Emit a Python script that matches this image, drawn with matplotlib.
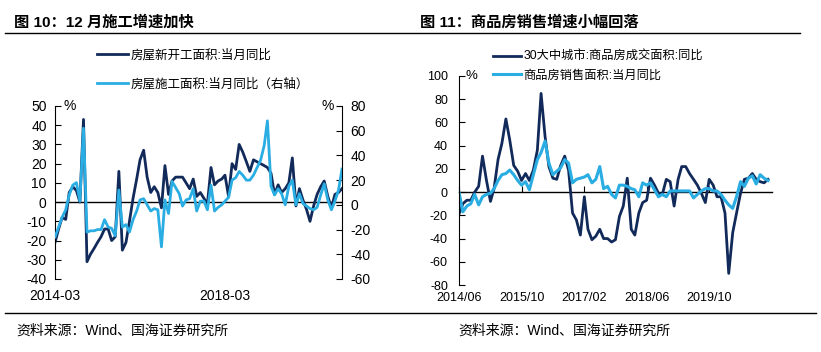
import matplotlib.pyplot as plt
import matplotlib.dates as mdates
import pandas as pd

plt.rcParams['font.family'] = ['Liberation Sans', 'Noto Sans CJK SC']
plt.rcParams['axes.unicode_minus'] = False

# 图10 数据：房屋新开工面积 / 房屋施工面积 当月同比 (%)
months_10 = pd.date_range('2014-03-01', periods=82, freq='MS')
new_start = [-21, -14, -8, -9, 5, 8, 6, 0, 43, -31,
             -27, -24, -21, -18, -14, -14, -20, -18, 16, -25,
             -21, -10, 2, 12, 22, 27, 13, 5, 8, 5,
             -3, 19, 4, 11, 13, 13, 13, 10, 7, 12,
             3, 5, 2, -1, 18, 9, 11, 12, 14, 3,
             20, 17, 30, 26, 21, 16, 22, 21, 20, 19,
             18, 15, 4, 9, 5, 7, 10, 23, -2, 7,
             1, -4, -10, -2, 4, 8, 11, 3, -3, 4,
             5, 7]
under_construction = [-26, -18, -10, -4, 8, 16, 18, 3, 62, -22,
                      -21, -21, -20, -20, -12, -18, -19, -25, 12, -18,
                      -16, -22, -12, -5, 4, 5, 0, -5, -3, -4,
                      -34, 4, -7, 19, 14, 9, -1, 4, 5, 13,
                      -5, 3, 3, -4, 16, -5, -2, 0, 3, 6,
                      20, 22, 27, 24, 20, 20, 24, 30, 36, 48,
                      68, 15, 8, 13, 9, 0, 15, 20, 0, 9,
                      1, -1, -3, -4, -2, 8, 17, 4, -4, 3,
                      12, 29]
ticks_10 = pd.to_datetime(['2014-03-01', '2018-03-01'])
labels_10 = ['房屋新开工面积:当月同比', '房屋施工面积:当月同比（右轴）']

# 图11 数据：30大中城市商品房成交面积同比 / 商品房销售面积当月同比 (%)
months_11 = pd.date_range('2014-06-01', periods=80, freq='MS')
city30_area = [-19, -10, -7, -7, 0, 5, 31, 10, -8, 3,
               28, 42, 63, 45, 23, 18, 10, 16, 10, 19,
               36, 85, 48, 22, 12, 11, 23, 31, 19, -18,
               -24, -37, -4, -32, -41, -38, -32, -40, -40, -43,
               -41, -21, -12, 12, -32, -37, -18, -9, -7, 12,
               6, -1, -2, 11, 9, -12, 11, 22, 22, 16,
               11, 6, -1, -9, 11, 6, -4, -4, -18, -70,
               -35, -18, -1, 11, 12, 16, 11, 9, 8, 11]
sales_area = [0, -17, -12, -10, -2, -11, -4, -2, -1, 3,
              10, 15, 16, 19, 15, 10, 6, 9, 2, 15,
              28, 34, 44, 25, 15, 18, 21, 28, 25, 8,
              11, 12, 13, 15, 8, 11, 22, 3, 5, -2,
              -5, 6, 6, 5, 3, 2, -4, 8, 6, 8,
              2, -4, -2, -4, 1, 1, 1, 1, 1, 1,
              -5, -2, 1, 3, 3, 1, 1, -2, -7, -11,
              -14, -4, 9, 5, 12, 14, 7, 15, 12, 10]
ticks_11 = pd.to_datetime(['2014-06-01', '2015-10-01', '2017-02-01', '2018-06-01', '2019-10-01'])
labels_11 = ['30大中城市:商品房成交面积:同比', '商品房销售面积:当月同比']

dark = '#122a5a'
light = '#2aade2'
W, H = 821, 352

fig = plt.figure(figsize=(W / 100, H / 100), dpi=100)

# ---------------- 图10 ----------------
ax1 = fig.add_axes([55 / W, 1 - 279 / H, (342 - 55) / W, (279 - 106) / H])
ax1b = ax1.twinx()
ax1.axhline(0, color='black', lw=1, zorder=1)
l1, = ax1.plot(months_10, new_start, color=dark, lw=2.0)
l2, = ax1b.plot(months_10, under_construction, color=light, lw=2.0)

ax1.set_ylim(-40, 50)
ax1b.set_ylim(-60, 80)
ax1.set_xlim(months_10[0], months_10[-1])
ax1.set_yticks(range(-40, 51, 10))
ax1b.set_yticks(range(-60, 81, 20))
ax1.set_xticks(ticks_10)
ax1.xaxis.set_major_formatter(mdates.DateFormatter('%Y-%m'))
ax1.tick_params(axis='y', direction='in', length=4, labelsize=10, pad=6)
ax1b.tick_params(axis='y', direction='in', length=4, labelsize=10, pad=6)
ax1.tick_params(axis='x', length=0, labelsize=10, pad=7)
for s in ['top', 'bottom', 'right']:
    ax1.spines[s].set_visible(False)
for s in ['top', 'bottom', 'left']:
    ax1b.spines[s].set_visible(False)
ax1.text(0.052, 1.0, '%', transform=ax1.transAxes, fontsize=10, va='center', ha='center')
ax1.text(0.951, 1.0, '%', transform=ax1.transAxes, fontsize=10, va='center', ha='center')

fig.legend([l1, l2], labels_10, loc='upper left', bbox_to_anchor=(97 / W, 1 - 49 / H),
           frameon=False, fontsize=9, handlelength=2.5, handletextpad=0.2,
           labelspacing=1.35, borderpad=0, borderaxespad=0)

# ---------------- 图11 ----------------
ax2 = fig.add_axes([459 / W, 1 - 285 / H, (772 - 459) / W, (285 - 76) / H])
m1, = ax2.plot(months_11, city30_area, color=dark, lw=2.0)
m2, = ax2.plot(months_11, sales_area, color=light, lw=2.2)
ax2.set_ylim(-80, 100)
ax2.set_xlim(pd.Timestamp('2014-06-01'), pd.Timestamp('2021-02-01'))
ax2.set_yticks(range(-80, 101, 20))
ax2.set_xticks(ticks_11)
ax2.xaxis.set_major_formatter(mdates.DateFormatter('%Y/%m'))
ax2.tick_params(axis='y', direction='in', length=4, labelsize=9, pad=8)
ax2.tick_params(axis='x', length=0, labelsize=9, pad=5)
for s in ['top', 'bottom', 'right']:
    ax2.spines[s].set_visible(False)

# 零轴及其刻度
zero_ax = ax2.secondary_xaxis(0, transform=ax2.transData)
zero_ax.set_xticks(mdates.date2num(ticks_11))
zero_ax.tick_params(direction='in', length=4, labelbottom=False, labeltop=False)
for s in ['top', 'bottom']:
    zero_ax.spines[s].set_linewidth(1)
ax2.text(0.04, 1.0, '%', transform=ax2.transAxes, fontsize=9.5, va='center', ha='center')

fig.legend([m1, m2], labels_11, loc='upper left', bbox_to_anchor=(493 / W, 1 - 51 / H),
           frameon=False, fontsize=8.8, handlelength=2.3, handletextpad=0.2,
           labelspacing=0.55, borderpad=0, borderaxespad=0)

# ---------------- 标题、分隔线与来源 ----------------
title_font = dict(fontsize=11, fontweight='bold', va='center', ha='left')
fig.text(14 / W, 1 - 22 / H, '图 10：12 月施工增速加快', **title_font)
fig.text(420 / W, 1 - 22 / H, '图 11：商品房销售增速小幅回落', **title_font)
fig.add_artist(plt.Line2D([5 / W, 800 / W], [1 - 33 / H, 1 - 33 / H], color='black', lw=1))
fig.add_artist(plt.Line2D([5 / W, 816 / W], [1 - 313 / H, 1 - 313 / H], color='black', lw=1))
fig.text(16 / W, 1 - 331 / H, '资料来源：Wind、国海证券研究所', fontsize=10, va='center', ha='left')
fig.text(458 / W, 1 - 331 / H, '资料来源：Wind、国海证券研究所', fontsize=10, va='center', ha='left')

fig.savefig('out.png', dpi=100, facecolor='white')
